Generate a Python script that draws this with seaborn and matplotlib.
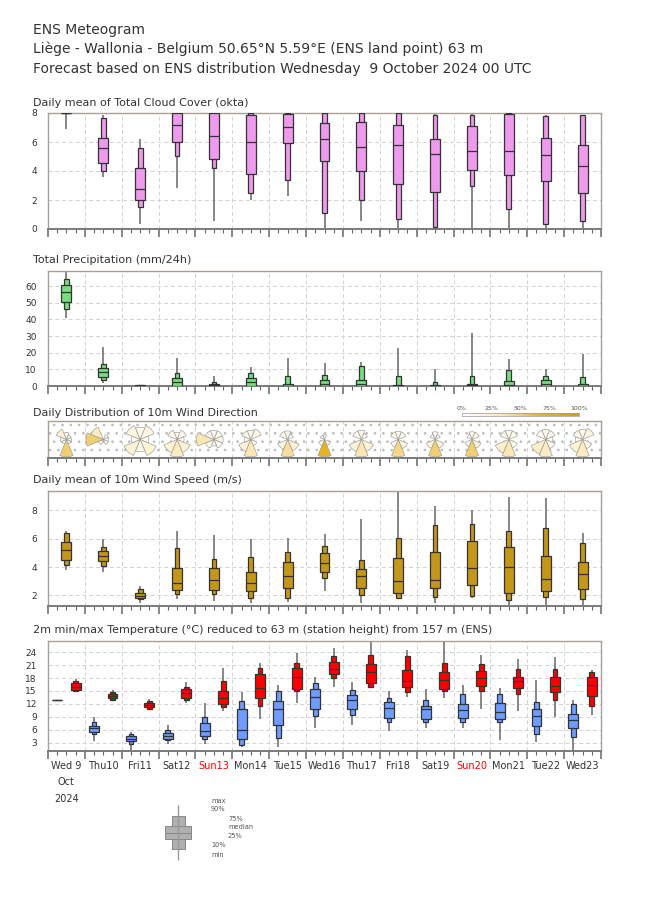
from matplotlib import pyplot as plt
from matplotlib.patches import Wedge, Rectangle
from matplotlib.colors import LinearSegmentedColormap
from matplotlib.ticker import MultipleLocator
import numpy as np
import pandas as pd
import seaborn as sns

# ---- data (one row per day: min, p10, p25, median, p75, p90, max)
day_labels = ["Wed 9", "Thu10", "Fri11", "Sat12", "Sun13", "Mon14", "Tue15", "Wed16",
              "Thu17", "Fri18", "Sat19", "Sun20", "Mon21", "Tue22", "Wed23"]
sundays = ["Sun13", "Sun20"]
stat_names = ["min", "p10", "p25", "med", "p75", "p90", "max"]

cloud_cover = [
    (6.9, 8.0, 8.0, 8.0, 8.0, 8.0, 8.0),
    (3.6, 4.0, 4.55, 5.57, 6.26, 7.65, 7.84),
    (0.35, 1.5, 1.97, 2.78, 4.18, 5.61, 6.2),
    (2.83, 5.06, 6.03, 7.19, 8.0, 8.0, 8.0),
    (0.58, 4.22, 4.83, 6.43, 8.0, 8.0, 8.0),
    (1.97, 2.5, 3.78, 5.99, 7.89, 8.0, 8.0),
    (2.25, 3.36, 5.96, 7.03, 7.96, 8.0, 8.0),
    (0.0, 1.11, 4.71, 6.22, 7.31, 8.0, 8.0),
    (0.58, 1.97, 3.99, 5.64, 7.4, 8.0, 8.0),
    (0.0, 0.7, 3.13, 5.78, 7.15, 8.0, 8.0),
    (0.0, 0.12, 2.58, 5.17, 6.22, 7.89, 7.93),
    (0.0, 2.97, 4.1, 5.41, 7.08, 7.87, 7.93),
    (0.0, 1.39, 3.69, 5.38, 7.96, 8.0, 8.0),
    (0.0, 0.35, 3.29, 5.08, 6.26, 7.82, 7.89),
    (0.0, 0.58, 2.5, 4.36, 5.8, 7.84, 7.89),
]

precipitation = [
    (41.0, 46.2, 50.6, 56.2, 60.8, 64.0, 72.0),
    (1.6, 3.4, 5.2, 8.4, 10.8, 13.0, 23.6),
    (0.0, 0.0, 0.1, 0.2, 0.4, 0.5, 0.8),
    (0.0, 0.0, 0.0, 2.2, 5.0, 7.6, 16.6),
    (0.0, 0.0, 0.0, 0.4, 1.0, 2.2, 6.0),
    (0.0, 0.0, 0.0, 2.4, 5.0, 7.6, 11.6),
    (0.0, 0.0, 0.0, 0.3, 1.0, 6.2, 16.6),
    (0.0, 0.0, 0.0, 1.0, 3.4, 6.4, 13.6),
    (0.0, 0.0, 0.0, 1.0, 3.4, 12.2, 14.2),
    (0.0, 0.0, 0.0, 0.3, 0.8, 5.8, 22.6),
    (0.0, 0.0, 0.0, 0.2, 0.8, 2.4, 10.0),
    (0.0, 0.0, 0.0, 0.4, 1.2, 5.8, 31.6),
    (0.0, 0.0, 0.0, 0.5, 2.8, 9.6, 16.0),
    (0.0, 0.0, 0.0, 1.0, 3.4, 5.8, 10.0),
    (0.0, 0.0, 0.0, 0.3, 1.0, 5.2, 19.2),
]

wind_speed = [
    (3.79, 4.14, 4.5, 5.21, 5.74, 6.38, 6.52),
    (3.67, 4.07, 4.4, 4.81, 5.14, 5.4, 5.95),
    (1.43, 1.71, 1.79, 1.95, 2.14, 2.43, 2.67),
    (1.71, 2.07, 2.36, 2.9, 3.95, 5.36, 6.52),
    (1.6, 2.07, 2.36, 3.07, 3.93, 4.57, 6.29),
    (1.43, 1.81, 2.29, 2.9, 3.67, 4.74, 5.95),
    (1.52, 1.83, 2.5, 3.38, 4.33, 5.07, 6.05),
    (2.29, 3.21, 3.67, 4.29, 5.0, 5.52, 6.36),
    (1.45, 2.0, 2.48, 3.38, 3.83, 4.48, 7.38),
    (1.71, 1.81, 2.19, 3.0, 4.64, 6.02, 9.6),
    (1.45, 1.9, 2.5, 3.07, 5.07, 7.0, 8.29),
    (1.81, 1.95, 2.71, 3.95, 5.83, 7.05, 8.02),
    (1.33, 1.69, 2.19, 4.02, 5.45, 6.55, 8.98),
    (1.1, 1.86, 2.33, 3.14, 4.76, 6.74, 8.9),
    (1.1, 1.71, 2.43, 3.5, 4.36, 5.71, 6.38),
]

temp_min = [
    (12.7, 12.8, 12.85, 12.9, 12.95, 13.0, 13.0),
    (3.4, 4.9, 5.5, 6.3, 6.8, 7.8, 9.0),
    (1.2, 2.8, 3.3, 3.9, 4.5, 4.9, 5.5),
    (2.6, 3.5, 3.9, 4.6, 5.3, 6.0, 7.0),
    (2.8, 3.8, 4.6, 5.6, 7.6, 9.0, 12.1),
    (2.1, 2.5, 3.8, 6.0, 10.7, 12.7, 14.7),
    (2.1, 4.1, 7.2, 10.9, 12.6, 15.1, 16.3),
    (6.3, 9.1, 10.9, 13.7, 15.4, 16.8, 18.3),
    (7.0, 9.5, 10.9, 12.9, 14.1, 15.2, 17.1),
    (5.7, 7.7, 8.8, 11.1, 12.4, 13.4, 15.0),
    (6.5, 7.7, 8.4, 10.7, 11.6, 12.9, 15.4),
    (6.3, 7.8, 8.7, 10.5, 12.0, 14.4, 16.3),
    (3.7, 7.7, 8.4, 10.0, 12.1, 14.4, 15.6),
    (3.2, 5.1, 6.8, 9.1, 10.8, 12.5, 17.5),
    (0.8, 4.3, 6.5, 8.2, 9.7, 11.9, 13.0),
]

temp_max = [
    (14.7, 14.9, 15.2, 16.0, 16.8, 17.3, 17.7),
    (12.9, 13.0, 13.3, 13.9, 14.4, 14.7, 15.3),
    (10.5, 10.9, 11.2, 11.7, 12.3, 12.6, 13.1),
    (12.1, 12.9, 13.3, 14.6, 15.4, 16.0, 17.0),
    (10.3, 11.2, 11.9, 13.4, 15.1, 17.4, 20.3),
    (8.4, 11.6, 13.4, 15.8, 18.9, 20.4, 21.4),
    (12.3, 14.9, 15.4, 18.2, 20.3, 21.4, 23.9),
    (16.0, 18.1, 18.9, 20.0, 21.8, 23.1, 24.9),
    (16.0, 16.0, 16.8, 19.3, 21.3, 23.4, 27.0),
    (13.7, 14.8, 16.0, 17.3, 19.8, 23.1, 24.5),
    (13.3, 15.0, 15.5, 17.5, 19.5, 21.6, 27.0),
    (10.9, 15.1, 16.2, 17.9, 19.7, 21.2, 23.4),
    (10.4, 14.4, 15.6, 17.3, 18.3, 20.0, 22.4),
    (9.0, 13.0, 14.8, 16.2, 18.3, 20.0, 23.0),
    (9.4, 11.5, 13.8, 16.4, 18.3, 19.3, 19.9),
]

# wind direction frequency per day, sectors N, NE, E, SE, S, SW, W, NW
sector_dirs = [0, 45, 90, 135, 180, 225, 270, 315]
wind_dir_freq = [
    (0.08, 0.04, 0.04, 0.04, 0.50, 0.04, 0.06, 0.20),
    (0.00, 0.05, 0.05, 0.05, 0.00, 0.05, 0.50, 0.30),
    (0.10, 0.15, 0.05, 0.20, 0.10, 0.20, 0.05, 0.15),
    (0.05, 0.10, 0.05, 0.20, 0.30, 0.20, 0.00, 0.10),
    (0.10, 0.10, 0.10, 0.10, 0.05, 0.10, 0.35, 0.10),
    (0.10, 0.15, 0.00, 0.05, 0.35, 0.20, 0.05, 0.10),
    (0.10, 0.05, 0.00, 0.20, 0.40, 0.15, 0.00, 0.10),
    (0.05, 0.00, 0.00, 0.10, 0.70, 0.10, 0.00, 0.05),
    (0.10, 0.05, 0.00, 0.20, 0.35, 0.20, 0.00, 0.10),
    (0.10, 0.10, 0.00, 0.15, 0.45, 0.10, 0.00, 0.10),
    (0.10, 0.05, 0.00, 0.15, 0.50, 0.15, 0.00, 0.05),
    (0.10, 0.10, 0.00, 0.15, 0.50, 0.10, 0.00, 0.05),
    (0.10, 0.10, 0.00, 0.10, 0.35, 0.25, 0.00, 0.10),
    (0.10, 0.10, 0.05, 0.10, 0.30, 0.25, 0.00, 0.10),
    (0.10, 0.15, 0.00, 0.10, 0.30, 0.20, 0.05, 0.10),
]

legend_sample = (0.0, 1.3, 2.4, 3.2, 4.0, 5.1, 6.4)
legend_texts = ["max", "90%", "75%", "median", "25%", "10%", "min"]


def to_frame(rows, offset):
    df = pd.DataFrame(rows, columns=stat_names)
    df["x"] = np.arange(len(rows)) + offset
    return df


sns.set_style("white")
plt.rcParams["font.family"] = ["DejaVu Sans"]
plt.rcParams["hatch.linewidth"] = 0.7

W, H = 650, 916
fig = plt.figure(figsize=(W / 100, H / 100), dpi=100)
TXT = "#333333"


def px_axes(x0, y0, x1, y1):
    return fig.add_axes([x0 / W, 1 - y1 / H, (x1 - x0) / W, (y1 - y0) / H])


def style_panel(ax, ylim, yticks):
    ax.set_xlim(0, 15)
    ax.set_ylim(*ylim)
    ax.set_yticks(yticks)
    ax.xaxis.set_major_locator(MultipleLocator(1))
    ax.xaxis.set_minor_locator(MultipleLocator(0.25))
    ax.tick_params(axis="x", which="major", length=6, width=1.1, color="#666666",
                   labelbottom=False, direction="out", bottom=True)
    ax.tick_params(axis="x", which="minor", length=3, width=0.8, color="#666666",
                   direction="out", bottom=True)
    ax.tick_params(axis="y", length=0, labelsize=6.5, labelcolor=TXT, pad=8)
    ax.grid(True, which="major", color="#d2d2d2", linestyle=(0, (4, 3)), linewidth=0.7)
    ax.set_axisbelow(True)
    for s in ax.spines.values():
        s.set_color("#a89f95")
        s.set_linewidth(1.0)
    ax.spines["bottom"].set_color("#7a7a7a")
    ax.spines["bottom"].set_linewidth(1.4)


def draw_boxes(ax, df, color, wide=0.27, narrow=0.13):
    ax.vlines(df["x"], df["min"], df["max"], color="#666666", lw=1.1, zorder=2)
    ax.bar(df["x"], df["p90"] - df["p10"], bottom=df["p10"], width=narrow,
           color=color, edgecolor="#333333", lw=0.9, zorder=3)
    ax.bar(df["x"], df["p75"] - df["p25"], bottom=df["p25"], width=wide,
           color=color, edgecolor="#333333", lw=0.9, zorder=4)
    ax.hlines(df["med"], df["x"] - wide / 2, df["x"] + wide / 2,
              color="#333333", lw=0.9, zorder=5)


# header
for y, line in [(30, "ENS Meteogram"),
                (49, "Liège - Wallonia - Belgium 50.65°N 5.59°E (ENS land point) 63 m"),
                (69, "Forecast based on ENS distribution Wednesday  9 October 2024 00 UTC")]:
    fig.text(33 / W, 1 - y / H, line, fontsize=10, color=TXT, va="center")

titles = [(103, "Daily mean of Total Cloud Cover (okta)"),
          (260, "Total Precipitation (mm/24h)"),
          (413, "Daily Distribution of 10m Wind Direction"),
          (480, "Daily mean of 10m Wind Speed (m/s)"),
          (630, "2m min/max Temperature (°C) reduced to 63 m (station height) from 157 m (ENS)")]
for y, t in titles:
    fig.text(33 / W, 1 - y / H, t, fontsize=8, color=TXT, va="center")

# cloud cover
ax = px_axes(48, 113, 601, 229)
style_panel(ax, (0, 8), [0, 2, 4, 6, 8])
draw_boxes(ax, to_frame(cloud_cover, 0.5), "#ee9bee")

# precipitation
ax = px_axes(48, 271, 601, 386)
style_panel(ax, (0, 69), [0, 10, 20, 30, 40, 50, 60])
draw_boxes(ax, to_frame(precipitation, 0.5), "#77dd80")

# wind direction roses (y range chosen so one unit is as tall as one day is wide)
ax = px_axes(48, 421, 601, 458)
half = (37 / (553 / 15)) / 2
style_panel(ax, (-half, half), [])
ax.add_patch(Rectangle((0, -half), 15, 2 * half, hatch="..", facecolor="none",
                       edgecolor="#bdbdbd", lw=0.7, zorder=0.5))
rose_cmap = LinearSegmentedColormap.from_list("rose", ["#ffffff", "#fbe9b8", "#e8b428", "#d8a010"])
for i, freqs in enumerate(wind_dir_freq):
    fmax = max(freqs)
    for d, f in zip(sector_dirs, freqs):
        if f <= 0:
            continue
        r = 0.47 * np.sqrt(f / fmax)
        ang = (90 - d) % 360  # wedge points to where the wind comes from
        ax.add_patch(Wedge((i + 0.5, 0.0), r, ang - 22.5, ang + 22.5,
                           facecolor=rose_cmap(f), edgecolor="#999999", lw=0.45, zorder=3))

# colour key for roses
cax = px_axes(462, 413, 579, 416)
cax.imshow(np.linspace(0, 1, 200)[None, :], aspect="auto", cmap=rose_cmap,
           extent=(0, 100, 0, 1))
cax.set_yticks([])
cax.set_xticks([0, 25, 50, 75, 100])
cax.set_xticklabels(["0%", "25%", "50%", "75%", "100%"])
cax.tick_params(axis="x", top=True, bottom=False, labeltop=True, labelbottom=False,
                length=0, labelsize=4.5, labelcolor="#555555", pad=1.5)
for s in cax.spines.values():
    s.set_color("#999999")
    s.set_linewidth(0.5)

# wind speed
ax = px_axes(48, 491, 601, 606)
style_panel(ax, (1.24, 9.38), [2, 4, 6, 8])
draw_boxes(ax, to_frame(wind_speed, 0.5), "#c4961a")

# temperature
ax = px_axes(48, 641, 601, 751)
style_panel(ax, (1.06, 26.6), [3, 6, 9, 12, 15, 18, 21, 24])
draw_boxes(ax, to_frame(temp_min, 0.25), "#6e9cff")
draw_boxes(ax, to_frame(temp_max, 0.75), "#ff0000")
for i, lab in enumerate(day_labels):
    ax.annotate(lab, (i + 0.5, 0), xycoords=("data", "axes fraction"),
                xytext=(0, -10.8), textcoords="offset points", ha="center", va="center",
                fontsize=7, color="red" if lab in sundays else TXT)
ax.annotate("Oct", (0.5, 0), xycoords=("data", "axes fraction"), xytext=(0, -22.3),
            textcoords="offset points", ha="center", va="center", fontsize=7, color=TXT)
ax.annotate("2024", (0.5, 0), xycoords=("data", "axes fraction"), xytext=(0, -34.5),
            textcoords="offset points", ha="center", va="center", fontsize=7, color=TXT)

# legend glyph
lax = px_axes(150, 800, 260, 865)
lax.set_xlim(0, 11)
lax.set_ylim(-0.6, 7.0)
lax.axis("off")
leg = to_frame([legend_sample], 2.8)
lax.vlines(leg["x"], leg["min"], leg["max"], color="#999999", lw=1)
lax.bar(leg["x"], leg["p90"] - leg["p10"], bottom=leg["p10"], width=1.3,
        color="#b0b0b0", edgecolor="#888888", lw=0.7)
lax.bar(leg["x"], leg["p75"] - leg["p25"], bottom=leg["p25"], width=2.6,
        color="#b0b0b0", edgecolor="#888888", lw=0.7)
lax.hlines(leg["med"], leg["x"] - 1.3, leg["x"] + 1.3, color="#888888", lw=0.7)
label_x = [6.1, 6.1, 7.8, 7.8, 7.8, 6.1, 6.1]
label_y = [6.9, 5.9, 4.8, 3.8, 2.8, 1.7, 0.6]
for lx, ly, t in zip(label_x, label_y, legend_texts):
    lax.text(lx, ly, t, fontsize=4.8, color="#555555", va="center")

fig.savefig("out.png", dpi=100)
